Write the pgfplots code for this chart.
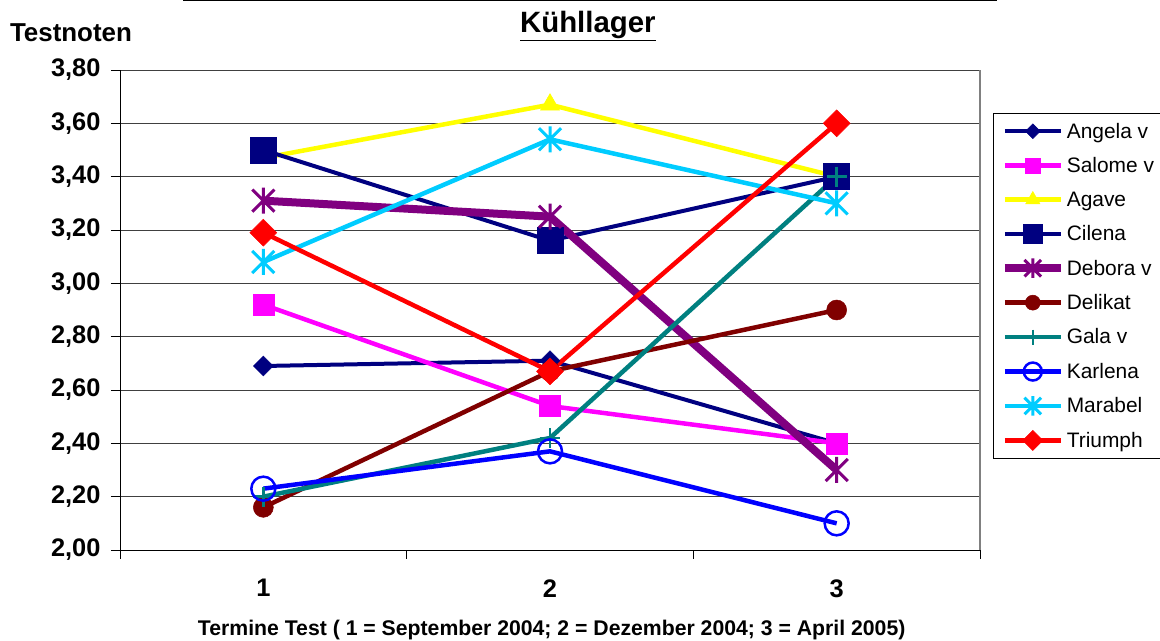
\documentclass[border=0pt]{standalone}
\usepackage{pgfplots}
\pgfplotsset{compat=1.18}
\usepackage{fontspec}
\setmainfont{Liberation Sans}
\definecolor{cNavy}{HTML}{000080}
\definecolor{cMag}{HTML}{FF00FF}
\definecolor{cYel}{HTML}{FFFF00}
\definecolor{cPur}{HTML}{800080}
\definecolor{cDred}{HTML}{800000}
\definecolor{cTeal}{HTML}{008080}
\definecolor{cBlue}{HTML}{0000FF}
\definecolor{cCyan}{HTML}{00CCFF}
\definecolor{cRed}{HTML}{FF0000}
\pgfdeclareplotmark{xstar}{%
  \pgfpathmoveto{\pgfqpoint{0pt}{\pgfplotmarksize}}%
  \pgfpathlineto{\pgfqpoint{0pt}{-\pgfplotmarksize}}%
  \pgfpathmoveto{\pgfqpoint{-.85\pgfplotmarksize}{-.85\pgfplotmarksize}}%
  \pgfpathlineto{\pgfqpoint{.85\pgfplotmarksize}{.85\pgfplotmarksize}}%
  \pgfpathmoveto{\pgfqpoint{-.85\pgfplotmarksize}{.85\pgfplotmarksize}}%
  \pgfpathlineto{\pgfqpoint{.85\pgfplotmarksize}{-.85\pgfplotmarksize}}%
  \pgfusepathqstroke}
\begin{document}
\begin{tikzpicture}
\useasboundingbox (0,0) rectangle (1160bp,641bp);
\begin{axis}[
  at={(120bp,91bp)}, anchor=south west,
  width=860bp, height=480bp, scale only axis,
  xmin=0.5, xmax=3.5, ymin=2, ymax=3.8,
  axis x line*=bottom, axis y line*=left,
  axis line style={draw=black, line width=1bp},
  xtick={1,2,3}, xticklabels={1,2,3},
  major x tick style={draw=none},
  minor xtick={0.5,1.5,2.5,3.5},
  extra x ticks={3.5}, extra x tick labels={},
  extra x tick style={grid=major, major grid style={draw=gray, line width=1.2bp}, major x tick style={draw=none}},
  ytick={2,2.2,2.4,2.6,2.8,3.0,3.2,3.4,3.6,3.8},
  ymajorgrids, major grid style={draw=gray!50!black, line width=0.8bp},
  tick align=outside, major tick length=9bp, minor tick length=9bp,
  tick style={draw=black, line width=0.8bp},
  /pgf/number format/.cd, fixed, fixed zerofill, precision=2, use comma, assume math mode=true,
  /pgfplots/.cd,
  ticklabel style={font=\bfseries\fontsize{25.5}{29}\selectfont},
  yticklabel style={xshift=-7bp},
  xticklabel style={yshift=-17bp},
  title={\underline{Kühllager}},
  title style={font=\bfseries\fontsize{29.5}{34}\selectfont, at={(axis description cs:0.544,1.08)}, anchor=center},
  every axis y label/.style={at={(axis description cs:-0.057,1.077)}, anchor=center},
  ylabel={Testnoten},
  ylabel style={font=\bfseries\fontsize{26}{30}\selectfont},
  xlabel={Termine Test ( 1 = September 2004; 2 = Dezember 2004; 3 = April 2005)},
  xlabel style={font=\bfseries\fontsize{21.3}{25}\selectfont, at={(axis description cs:0.502,-0.167)}, anchor=center},
  legend style={at={(1.015,0.9104)}, anchor=north west, draw=black, line width=0.8bp,
    font=\fontsize{21}{25}\selectfont, row sep=13.8bp, inner sep=7.5bp},
  legend cell align=left,
  legend image code/.code={\draw[mark repeat=2,mark phase=2, every mark/.append style={scale=0.75}] plot coordinates {(0bp,0bp)(28bp,0bp)(56bp,0bp)};},
]
\addplot[cNavy, line width=4bp, mark=square*, mark size=7bp, mark options={rotate=45, solid, line width=0.5bp}] coordinates {(1,2.69)(2,2.71)(3,2.40)};
\addlegendentry{Angela v}
\addplot[cMag, line width=4.5bp, mark=square*, mark size=10.5bp, mark options={solid, line width=0.5bp}] coordinates {(1,2.92)(2,2.54)(3,2.40)};
\addlegendentry{Salome v}
\addplot[cYel, line width=4.5bp, mark=triangle*, mark size=11bp, mark options={solid, line width=0.5bp}] coordinates {(1,3.47)(2,3.67)(3,3.40)};
\addlegendentry{Agave}
\addplot[cNavy, line width=4bp, mark=square*, mark size=13bp, mark options={solid, line width=0.5bp}] coordinates {(1,3.50)(2,3.16)(3,3.40)};
\addlegendentry{Cilena}
\addplot[cPur, line width=8bp, mark=xstar, mark size=13bp, mark options={solid, line width=3bp}] coordinates {(1,3.31)(2,3.25)(3,2.30)};
\addlegendentry{Debora v}
\addplot[cDred, line width=4.5bp, mark=*, mark size=10bp, mark options={solid, line width=0.5bp}] coordinates {(1,2.16)(2,2.67)(3,2.90)};
\addlegendentry{Delikat}
\addplot[cTeal, line width=4.5bp, mark=+, mark size=10bp, mark options={solid, line width=2.5bp}] coordinates {(1,2.20)(2,2.42)(3,3.40)};
\addlegendentry{Gala v}
\addplot[cBlue, line width=4.5bp, mark=o, mark size=12bp, mark options={solid, line width=2.5bp}] coordinates {(1,2.23)(2,2.37)(3,2.10)};
\addlegendentry{Karlena}
\addplot[cCyan, line width=4.5bp, mark=xstar, mark size=13bp, mark options={solid, line width=3bp}] coordinates {(1,3.08)(2,3.54)(3,3.30)};
\addlegendentry{Marabel}
\addplot[cRed, line width=4.5bp, mark=square*, mark size=9.5bp, mark options={rotate=45, solid, line width=0.5bp}] coordinates {(1,3.19)(2,2.67)(3,3.60)};
\addlegendentry{Triumph}
\end{axis}
\draw[black, line width=1bp] (183bp,640bp) -- (997bp,640bp);
\end{tikzpicture}
\end{document}
